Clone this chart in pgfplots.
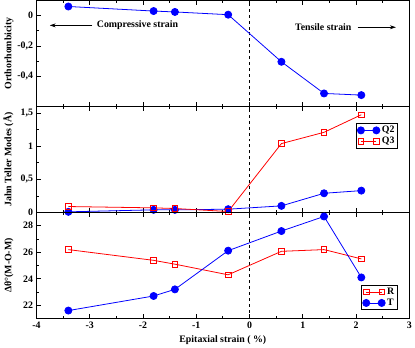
\documentclass[border=0pt]{standalone}
\usepackage{fontspec}
\setmainfont{Liberation Serif}
\usepackage{pgfplots}
\pgfplotsset{compat=1.18}
\usepgfplotslibrary{groupplots}
\usetikzlibrary{arrows.meta}

\definecolor{myblue}{RGB}{0,0,255}
\definecolor{myred}{RGB}{255,0,0}

\begin{document}
\begin{tikzpicture}
\pgfplotsset{
  every axis/.append style={
    font=\bfseries\fontsize{10}{12}\selectfont,
    scale only axis,
    width=378pt,
    height=107.5pt,
    xmin=-4, xmax=3,
    xtick={-4,-3,...,3},
    minor x tick num=1,
    minor y tick num=1,
    tick align=inside,
    xtick pos=both,
    ytick pos=left,
    major tick length=5pt,
    minor tick length=3pt,
    axis line style={line width=0.9pt},
    every tick/.style={black,line width=0.7pt},
    /pgf/number format/assume math mode=true,
    /pgf/number format/use comma,
    tick label style={font=\bfseries\fontsize{10}{12}\selectfont},
    y label style={at={(axis description cs:-0.052,0.5)},anchor=south,font=\bfseries\fontsize{10}{12}\selectfont},
    legend style={draw=black,line width=0.8pt,font=\bfseries\fontsize{10}{12}\selectfont,
      inner sep=1pt,row sep=-1pt,cells={anchor=west}},
    legend image code/.code={\draw[mark repeat=1,mark phase=1,#1] plot coordinates {(0cm,0cm) (0.55cm,0cm)};},
  },
  blueline/.style={color=myblue,line width=0.8pt,mark=*,mark size=3.6pt,mark options={fill=myblue,solid}},
  redline/.style={color=myred,line width=0.8pt,mark=square,mark size=2.8pt,mark options={fill=white,solid,line width=0.8pt}},
}
\begin{groupplot}[group style={group size=1 by 3, vertical sep=0pt, x descriptions at=edge bottom}]

\nextgroupplot[ymin=-0.6, ymax=0.1, ytick={-0.4,-0.2,0}, ylabel={Orthorhombicity}]
\addplot[black,dashed,line width=0.8pt,forget plot] coordinates {(0,-0.6) (0,0.1)};
\addplot[blueline] coordinates {
  (-3.4,0.060) (-1.8,0.030) (-1.4,0.024) (-0.4,0.006)
  (0.6,-0.305) (1.4,-0.514) (2.1,-0.525)
};
\draw[-{Stealth[length=6pt,width=4pt]},line width=0.7pt] (axis cs:-2.95,-0.0645) -- (axis cs:-3.75,-0.0645);
\node[anchor=west] at (axis cs:-2.93,-0.0645) {Compressive strain};
\node[anchor=east] at (axis cs:1.98,-0.077) {Tensile strain};
\draw[-{Stealth[length=6pt,width=4pt]},line width=0.7pt] (axis cs:2.03,-0.077) -- (axis cs:2.75,-0.077);

\nextgroupplot[ymin=0, ymax=1.6, ytick={0,0.5,1,1.5}, ylabel={Jahn Teller Modes (Å)},
  legend style={at={(axis cs:2.0,1.35)},anchor=north west}]
\addplot[black,dashed,line width=0.8pt,forget plot] coordinates {(0,0) (0,1.6)};
\addplot[blueline] coordinates {
  (-3.4,0.01) (-1.8,0.04) (-1.4,0.04) (-0.4,0.05)
  (0.6,0.10) (1.4,0.29) (2.1,0.33)
};
\addplot[redline] coordinates {
  (-3.4,0.09) (-1.8,0.07) (-1.4,0.06) (-0.4,0.015)
  (0.6,1.04) (1.4,1.21) (2.1,1.475)
};
\legend{Q2,Q3}

\nextgroupplot[ymin=21, ymax=29, ytick={22,24,26,28}, ylabel={Δθ°(M-O-M)},
  xlabel={Epitaxial strain ( \%)},
  legend style={at={(axis cs:2.1,23.55)},anchor=north west}]
\addplot[black,dashed,line width=0.8pt,forget plot] coordinates {(0,21) (0,29)};
\addplot[redline] coordinates {
  (-3.4,26.2) (-1.8,25.39) (-1.4,25.1) (-0.4,24.3)
  (0.6,26.07) (1.4,26.2) (2.1,25.5)
};
\addplot[blueline] coordinates {
  (-3.4,21.6) (-1.8,22.7) (-1.4,23.2) (-0.4,26.12)
  (0.6,27.6) (1.4,28.7) (2.1,24.1)
};
\legend{R,T}
\end{groupplot}
\end{tikzpicture}
\end{document}
